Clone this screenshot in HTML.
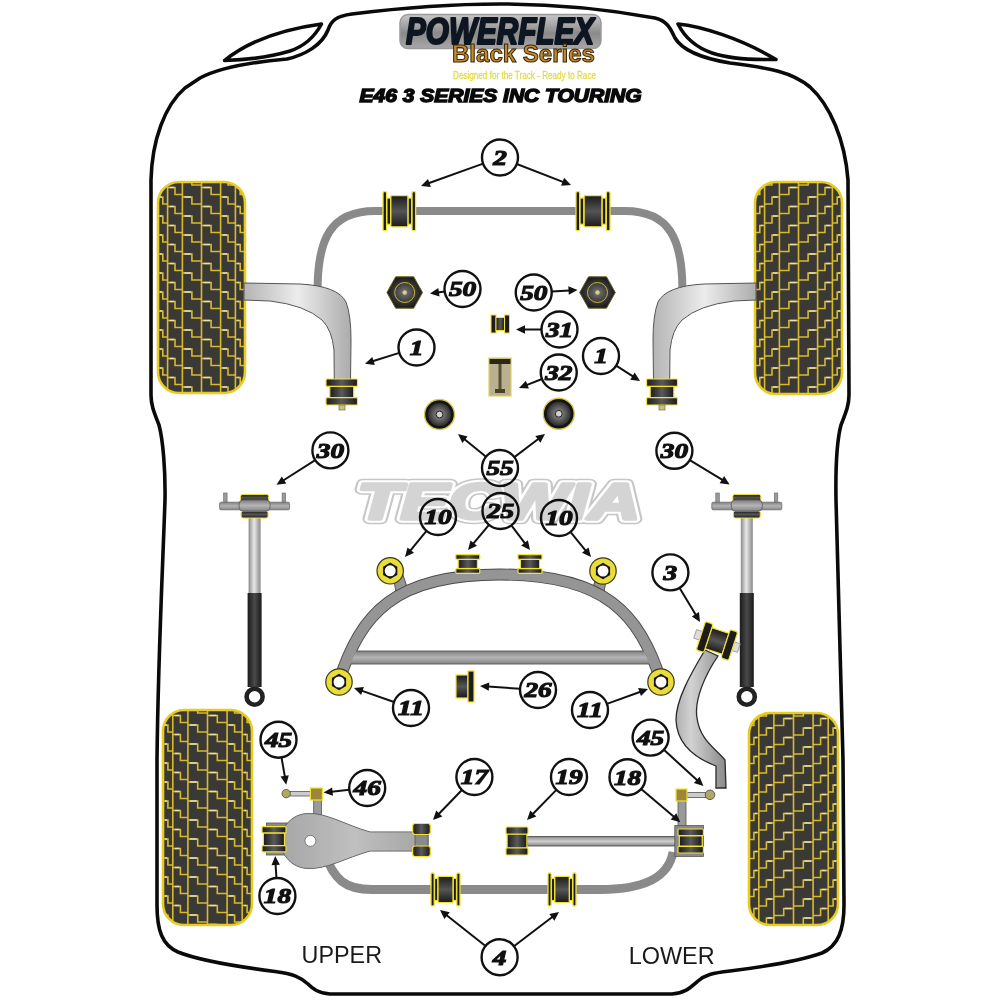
<!DOCTYPE html>
<html><head><meta charset="utf-8">
<style>
html,body{margin:0;padding:0;background:#fff;}
svg{display:block;}
.lb{font-family:"Liberation Serif",serif;font-weight:bold;font-style:italic;font-size:22px;fill:#111;stroke:#111;stroke-width:1.2px;}
</style></head><body>
<svg width="1000" height="1000" viewBox="0 0 1000 1000">
<defs>

<linearGradient id="gCoreV" x1="0" y1="0" x2="0" y2="1">
<stop offset="0" stop-color="#1a1a1a"/><stop offset="0.5" stop-color="#555"/><stop offset="1" stop-color="#1a1a1a"/>
</linearGradient>
<linearGradient id="gCoreH" x1="0" y1="0" x2="1" y2="0">
<stop offset="0" stop-color="#1a1a1a"/><stop offset="0.5" stop-color="#5a5a5a"/><stop offset="1" stop-color="#1a1a1a"/>
</linearGradient>
<linearGradient id="gArm" x1="0" y1="0" x2="1" y2="0">
<stop offset="0" stop-color="#b4b4b4"/><stop offset="0.5" stop-color="#ececec"/><stop offset="1" stop-color="#acacac"/>
</linearGradient>
<linearGradient id="gShaft" x1="0" y1="0" x2="1" y2="0">
<stop offset="0" stop-color="#8a8a8a"/><stop offset="0.45" stop-color="#e8e8e8"/><stop offset="1" stop-color="#8a8a8a"/>
</linearGradient>
<linearGradient id="gTube" x1="0" y1="0" x2="1" y2="0">
<stop offset="0" stop-color="#1a1a1a"/><stop offset="0.5" stop-color="#4a4a4a"/><stop offset="1" stop-color="#1a1a1a"/>
</linearGradient>
<linearGradient id="gBarV" x1="0" y1="0" x2="0" y2="1">
<stop offset="0" stop-color="#888"/><stop offset="0.5" stop-color="#d0d0d0"/><stop offset="1" stop-color="#888"/>
</linearGradient>
<linearGradient id="gLogo" x1="0" y1="0" x2="0" y2="1">
<stop offset="0" stop-color="#c8c8c8"/><stop offset="0.55" stop-color="#8a8a8a"/><stop offset="1" stop-color="#a8a8a8"/>
</linearGradient>
<linearGradient id="gLink" x1="0" y1="0" x2="1" y2="0">
<stop offset="0" stop-color="#b0b0b0"/><stop offset="0.3" stop-color="#d2d2d2"/><stop offset="1" stop-color="#8a8a8a"/>
</linearGradient>
<linearGradient id="gBarS" x1="0" y1="0" x2="0" y2="1">
<stop offset="0" stop-color="#808080"/><stop offset="0.5" stop-color="#b4b4b4"/><stop offset="1" stop-color="#858585"/>
</linearGradient>
<radialGradient id="gDonut" cx="0.5" cy="0.5" r="0.5">
<stop offset="0" stop-color="#8a8a8a"/><stop offset="0.45" stop-color="#6a6a6a"/><stop offset="1" stop-color="#2e2e2e"/>
</radialGradient>
<radialGradient id="gRound" cx="0.5" cy="0.5" r="0.5">
<stop offset="0" stop-color="#777"/><stop offset="0.6" stop-color="#3a3a3a"/><stop offset="1" stop-color="#1a1a1a"/>
</radialGradient>
</defs>

<path d="M200,78 C215,70 240,63 287,59 C305,55 322,45 328,30 C331,21 336,16 352,14 C400,8 450,4 500,4 C550,4 600,8 655,18 C668,21 671,30 675,38 C682,50 700,58 730,63 C770,68 792,72 810,87 C830,105 845,140 848,180 L849,395 C849,405 846,412 841,425 C837,440 835.5,470 836,500 C837,560 840,660 843,760 L844,905 C844,930 838,946 822,953 C800,961 770,966 730,971 C712,973 705,975 698,981 C690,988 685,993 672,994 L330,994 C318,993 313,989 308,984 C300,977 294,974 275,971.5 C240,967 200,961 178,952 C162,945 157,930 157,905 L157,760 C158,660 163,560 165,500 C165.5,470 163,440 159,425 C154,412 151,405 151,395 L151,180 C152,140 165,105 185,88 Z" fill="none" stroke="#0a0a0a" stroke-width="3.6" stroke-linejoin="round"/>
<path d="M224.5,60.5 C240,48 270,31 321.5,24 C314,38 302,47 290,51 C270,57 245,60 224.5,60.5 Z" fill="#fff" stroke="#0a0a0a" stroke-width="3.5" stroke-linejoin="round"/>
<path d="M678,24 C700,26 740,38 776,59.5 C755,60 730,59 712,53 C695,47 684,36 678,24 Z" fill="#fff" stroke="#0a0a0a" stroke-width="3.5" stroke-linejoin="round"/>
<clipPath id="tc0"><rect x="158" y="182" width="87" height="211" rx="21"/></clipPath>
<rect x="158" y="182" width="87" height="211" rx="21" fill="#3b3936"/>
<g clip-path="url(#tc0)"><path d="M167.6,182 V393 M182.4,182 V393 M201.5,182 V393 M220.6,182 V393 M235.4,182 V393 M158.0,140.0 H162.8 V147.0 H167.6 M158.0,159.0 H162.8 V166.0 H167.6 M158.0,178.0 H162.8 V185.0 H167.6 M158.0,197.0 H162.8 V204.0 H167.6 M158.0,216.0 H162.8 V223.0 H167.6 M158.0,235.0 H162.8 V242.0 H167.6 M158.0,254.0 H162.8 V261.0 H167.6 M158.0,273.0 H162.8 V280.0 H167.6 M158.0,292.0 H162.8 V299.0 H167.6 M158.0,311.0 H162.8 V318.0 H167.6 M158.0,330.0 H162.8 V337.0 H167.6 M158.0,349.0 H162.8 V356.0 H167.6 M158.0,368.0 H162.8 V375.0 H167.6 M158.0,387.0 H162.8 V394.0 H167.6 M167.6,149.5 H175.0 V156.5 H182.4 M167.6,168.5 H175.0 V175.5 H182.4 M167.6,187.5 H175.0 V194.5 H182.4 M167.6,206.5 H175.0 V213.5 H182.4 M167.6,225.5 H175.0 V232.5 H182.4 M167.6,244.5 H175.0 V251.5 H182.4 M167.6,263.5 H175.0 V270.5 H182.4 M167.6,282.5 H175.0 V289.5 H182.4 M167.6,301.5 H175.0 V308.5 H182.4 M167.6,320.5 H175.0 V327.5 H182.4 M167.6,339.5 H175.0 V346.5 H182.4 M167.6,358.5 H175.0 V365.5 H182.4 M167.6,377.5 H175.0 V384.5 H182.4 M167.6,396.5 H175.0 V403.5 H182.4 M182.4,140.0 H191.9 V147.0 H201.5 M182.4,159.0 H191.9 V166.0 H201.5 M182.4,178.0 H191.9 V185.0 H201.5 M182.4,197.0 H191.9 V204.0 H201.5 M182.4,216.0 H191.9 V223.0 H201.5 M182.4,235.0 H191.9 V242.0 H201.5 M182.4,254.0 H191.9 V261.0 H201.5 M182.4,273.0 H191.9 V280.0 H201.5 M182.4,292.0 H191.9 V299.0 H201.5 M182.4,311.0 H191.9 V318.0 H201.5 M182.4,330.0 H191.9 V337.0 H201.5 M182.4,349.0 H191.9 V356.0 H201.5 M182.4,368.0 H191.9 V375.0 H201.5 M182.4,387.0 H191.9 V394.0 H201.5 M201.5,149.5 H211.1 V156.5 H220.6 M201.5,168.5 H211.1 V175.5 H220.6 M201.5,187.5 H211.1 V194.5 H220.6 M201.5,206.5 H211.1 V213.5 H220.6 M201.5,225.5 H211.1 V232.5 H220.6 M201.5,244.5 H211.1 V251.5 H220.6 M201.5,263.5 H211.1 V270.5 H220.6 M201.5,282.5 H211.1 V289.5 H220.6 M201.5,301.5 H211.1 V308.5 H220.6 M201.5,320.5 H211.1 V327.5 H220.6 M201.5,339.5 H211.1 V346.5 H220.6 M201.5,358.5 H211.1 V365.5 H220.6 M201.5,377.5 H211.1 V384.5 H220.6 M201.5,396.5 H211.1 V403.5 H220.6 M220.6,140.0 H228.0 V147.0 H235.4 M220.6,159.0 H228.0 V166.0 H235.4 M220.6,178.0 H228.0 V185.0 H235.4 M220.6,197.0 H228.0 V204.0 H235.4 M220.6,216.0 H228.0 V223.0 H235.4 M220.6,235.0 H228.0 V242.0 H235.4 M220.6,254.0 H228.0 V261.0 H235.4 M220.6,273.0 H228.0 V280.0 H235.4 M220.6,292.0 H228.0 V299.0 H235.4 M220.6,311.0 H228.0 V318.0 H235.4 M220.6,330.0 H228.0 V337.0 H235.4 M220.6,349.0 H228.0 V356.0 H235.4 M220.6,368.0 H228.0 V375.0 H235.4 M220.6,387.0 H228.0 V394.0 H235.4 M235.4,149.5 H240.2 V156.5 H245.0 M235.4,168.5 H240.2 V175.5 H245.0 M235.4,187.5 H240.2 V194.5 H245.0 M235.4,206.5 H240.2 V213.5 H245.0 M235.4,225.5 H240.2 V232.5 H245.0 M235.4,244.5 H240.2 V251.5 H245.0 M235.4,263.5 H240.2 V270.5 H245.0 M235.4,282.5 H240.2 V289.5 H245.0 M235.4,301.5 H240.2 V308.5 H245.0 M235.4,320.5 H240.2 V327.5 H245.0 M235.4,339.5 H240.2 V346.5 H245.0 M235.4,358.5 H240.2 V365.5 H245.0 M235.4,377.5 H240.2 V384.5 H245.0 M235.4,396.5 H240.2 V403.5 H245.0" fill="none" stroke="#d6ba30" stroke-width="1.6"/><path d="M160.0,140.0 H161.8 M160.0,159.0 H161.8 M160.0,178.0 H161.8 M160.0,197.0 H161.8 M160.0,216.0 H161.8 M160.0,235.0 H161.8 M160.0,254.0 H161.8 M160.0,273.0 H161.8 M160.0,292.0 H161.8 M160.0,311.0 H161.8 M160.0,330.0 H161.8 M160.0,349.0 H161.8 M160.0,368.0 H161.8 M160.0,387.0 H161.8 M169.6,149.5 H174.0 M169.6,168.5 H174.0 M169.6,187.5 H174.0 M169.6,206.5 H174.0 M169.6,225.5 H174.0 M169.6,244.5 H174.0 M169.6,263.5 H174.0 M169.6,282.5 H174.0 M169.6,301.5 H174.0 M169.6,320.5 H174.0 M169.6,339.5 H174.0 M169.6,358.5 H174.0 M169.6,377.5 H174.0 M169.6,396.5 H174.0 M184.4,140.0 H190.9 M184.4,159.0 H190.9 M184.4,178.0 H190.9 M184.4,197.0 H190.9 M184.4,216.0 H190.9 M184.4,235.0 H190.9 M184.4,254.0 H190.9 M184.4,273.0 H190.9 M184.4,292.0 H190.9 M184.4,311.0 H190.9 M184.4,330.0 H190.9 M184.4,349.0 H190.9 M184.4,368.0 H190.9 M184.4,387.0 H190.9 M203.5,149.5 H210.1 M203.5,168.5 H210.1 M203.5,187.5 H210.1 M203.5,206.5 H210.1 M203.5,225.5 H210.1 M203.5,244.5 H210.1 M203.5,263.5 H210.1 M203.5,282.5 H210.1 M203.5,301.5 H210.1 M203.5,320.5 H210.1 M203.5,339.5 H210.1 M203.5,358.5 H210.1 M203.5,377.5 H210.1 M203.5,396.5 H210.1 M222.6,140.0 H227.0 M222.6,159.0 H227.0 M222.6,178.0 H227.0 M222.6,197.0 H227.0 M222.6,216.0 H227.0 M222.6,235.0 H227.0 M222.6,254.0 H227.0 M222.6,273.0 H227.0 M222.6,292.0 H227.0 M222.6,311.0 H227.0 M222.6,330.0 H227.0 M222.6,349.0 H227.0 M222.6,368.0 H227.0 M222.6,387.0 H227.0 M237.4,149.5 H239.2 M237.4,168.5 H239.2 M237.4,187.5 H239.2 M237.4,206.5 H239.2 M237.4,225.5 H239.2 M237.4,244.5 H239.2 M237.4,263.5 H239.2 M237.4,282.5 H239.2 M237.4,301.5 H239.2 M237.4,320.5 H239.2 M237.4,339.5 H239.2 M237.4,358.5 H239.2 M237.4,377.5 H239.2 M237.4,396.5 H239.2" fill="none" stroke="#e4e0b4" stroke-width="1.6"/></g>
<rect x="158" y="182" width="87" height="211" rx="21" fill="none" stroke="#e8cc22" stroke-width="2.6"/>
<clipPath id="tc1"><rect x="755" y="182" width="87" height="212" rx="21"/></clipPath>
<rect x="755" y="182" width="87" height="212" rx="21" fill="#3b3936"/>
<g clip-path="url(#tc1)"><path d="M764.6,182 V394 M779.4,182 V394 M798.5,182 V394 M817.6,182 V394 M832.4,182 V394 M764.6,149.5 H759.8 V156.5 H755.0 M764.6,168.5 H759.8 V175.5 H755.0 M764.6,187.5 H759.8 V194.5 H755.0 M764.6,206.5 H759.8 V213.5 H755.0 M764.6,225.5 H759.8 V232.5 H755.0 M764.6,244.5 H759.8 V251.5 H755.0 M764.6,263.5 H759.8 V270.5 H755.0 M764.6,282.5 H759.8 V289.5 H755.0 M764.6,301.5 H759.8 V308.5 H755.0 M764.6,320.5 H759.8 V327.5 H755.0 M764.6,339.5 H759.8 V346.5 H755.0 M764.6,358.5 H759.8 V365.5 H755.0 M764.6,377.5 H759.8 V384.5 H755.0 M764.6,396.5 H759.8 V403.5 H755.0 M779.4,140.0 H772.0 V147.0 H764.6 M779.4,159.0 H772.0 V166.0 H764.6 M779.4,178.0 H772.0 V185.0 H764.6 M779.4,197.0 H772.0 V204.0 H764.6 M779.4,216.0 H772.0 V223.0 H764.6 M779.4,235.0 H772.0 V242.0 H764.6 M779.4,254.0 H772.0 V261.0 H764.6 M779.4,273.0 H772.0 V280.0 H764.6 M779.4,292.0 H772.0 V299.0 H764.6 M779.4,311.0 H772.0 V318.0 H764.6 M779.4,330.0 H772.0 V337.0 H764.6 M779.4,349.0 H772.0 V356.0 H764.6 M779.4,368.0 H772.0 V375.0 H764.6 M779.4,387.0 H772.0 V394.0 H764.6 M798.5,149.5 H788.9 V156.5 H779.4 M798.5,168.5 H788.9 V175.5 H779.4 M798.5,187.5 H788.9 V194.5 H779.4 M798.5,206.5 H788.9 V213.5 H779.4 M798.5,225.5 H788.9 V232.5 H779.4 M798.5,244.5 H788.9 V251.5 H779.4 M798.5,263.5 H788.9 V270.5 H779.4 M798.5,282.5 H788.9 V289.5 H779.4 M798.5,301.5 H788.9 V308.5 H779.4 M798.5,320.5 H788.9 V327.5 H779.4 M798.5,339.5 H788.9 V346.5 H779.4 M798.5,358.5 H788.9 V365.5 H779.4 M798.5,377.5 H788.9 V384.5 H779.4 M798.5,396.5 H788.9 V403.5 H779.4 M817.6,140.0 H808.1 V147.0 H798.5 M817.6,159.0 H808.1 V166.0 H798.5 M817.6,178.0 H808.1 V185.0 H798.5 M817.6,197.0 H808.1 V204.0 H798.5 M817.6,216.0 H808.1 V223.0 H798.5 M817.6,235.0 H808.1 V242.0 H798.5 M817.6,254.0 H808.1 V261.0 H798.5 M817.6,273.0 H808.1 V280.0 H798.5 M817.6,292.0 H808.1 V299.0 H798.5 M817.6,311.0 H808.1 V318.0 H798.5 M817.6,330.0 H808.1 V337.0 H798.5 M817.6,349.0 H808.1 V356.0 H798.5 M817.6,368.0 H808.1 V375.0 H798.5 M817.6,387.0 H808.1 V394.0 H798.5 M832.4,149.5 H825.0 V156.5 H817.6 M832.4,168.5 H825.0 V175.5 H817.6 M832.4,187.5 H825.0 V194.5 H817.6 M832.4,206.5 H825.0 V213.5 H817.6 M832.4,225.5 H825.0 V232.5 H817.6 M832.4,244.5 H825.0 V251.5 H817.6 M832.4,263.5 H825.0 V270.5 H817.6 M832.4,282.5 H825.0 V289.5 H817.6 M832.4,301.5 H825.0 V308.5 H817.6 M832.4,320.5 H825.0 V327.5 H817.6 M832.4,339.5 H825.0 V346.5 H817.6 M832.4,358.5 H825.0 V365.5 H817.6 M832.4,377.5 H825.0 V384.5 H817.6 M832.4,396.5 H825.0 V403.5 H817.6 M842.0,140.0 H837.2 V147.0 H832.4 M842.0,159.0 H837.2 V166.0 H832.4 M842.0,178.0 H837.2 V185.0 H832.4 M842.0,197.0 H837.2 V204.0 H832.4 M842.0,216.0 H837.2 V223.0 H832.4 M842.0,235.0 H837.2 V242.0 H832.4 M842.0,254.0 H837.2 V261.0 H832.4 M842.0,273.0 H837.2 V280.0 H832.4 M842.0,292.0 H837.2 V299.0 H832.4 M842.0,311.0 H837.2 V318.0 H832.4 M842.0,330.0 H837.2 V337.0 H832.4 M842.0,349.0 H837.2 V356.0 H832.4 M842.0,368.0 H837.2 V375.0 H832.4 M842.0,387.0 H837.2 V394.0 H832.4" fill="none" stroke="#d6ba30" stroke-width="1.6"/><path d="M762.6,149.5 H760.8 M762.6,168.5 H760.8 M762.6,187.5 H760.8 M762.6,206.5 H760.8 M762.6,225.5 H760.8 M762.6,244.5 H760.8 M762.6,263.5 H760.8 M762.6,282.5 H760.8 M762.6,301.5 H760.8 M762.6,320.5 H760.8 M762.6,339.5 H760.8 M762.6,358.5 H760.8 M762.6,377.5 H760.8 M762.6,396.5 H760.8 M777.4,140.0 H773.0 M777.4,159.0 H773.0 M777.4,178.0 H773.0 M777.4,197.0 H773.0 M777.4,216.0 H773.0 M777.4,235.0 H773.0 M777.4,254.0 H773.0 M777.4,273.0 H773.0 M777.4,292.0 H773.0 M777.4,311.0 H773.0 M777.4,330.0 H773.0 M777.4,349.0 H773.0 M777.4,368.0 H773.0 M777.4,387.0 H773.0 M796.5,149.5 H789.9 M796.5,168.5 H789.9 M796.5,187.5 H789.9 M796.5,206.5 H789.9 M796.5,225.5 H789.9 M796.5,244.5 H789.9 M796.5,263.5 H789.9 M796.5,282.5 H789.9 M796.5,301.5 H789.9 M796.5,320.5 H789.9 M796.5,339.5 H789.9 M796.5,358.5 H789.9 M796.5,377.5 H789.9 M796.5,396.5 H789.9 M815.6,140.0 H809.1 M815.6,159.0 H809.1 M815.6,178.0 H809.1 M815.6,197.0 H809.1 M815.6,216.0 H809.1 M815.6,235.0 H809.1 M815.6,254.0 H809.1 M815.6,273.0 H809.1 M815.6,292.0 H809.1 M815.6,311.0 H809.1 M815.6,330.0 H809.1 M815.6,349.0 H809.1 M815.6,368.0 H809.1 M815.6,387.0 H809.1 M830.4,149.5 H826.0 M830.4,168.5 H826.0 M830.4,187.5 H826.0 M830.4,206.5 H826.0 M830.4,225.5 H826.0 M830.4,244.5 H826.0 M830.4,263.5 H826.0 M830.4,282.5 H826.0 M830.4,301.5 H826.0 M830.4,320.5 H826.0 M830.4,339.5 H826.0 M830.4,358.5 H826.0 M830.4,377.5 H826.0 M830.4,396.5 H826.0 M840.0,140.0 H838.2 M840.0,159.0 H838.2 M840.0,178.0 H838.2 M840.0,197.0 H838.2 M840.0,216.0 H838.2 M840.0,235.0 H838.2 M840.0,254.0 H838.2 M840.0,273.0 H838.2 M840.0,292.0 H838.2 M840.0,311.0 H838.2 M840.0,330.0 H838.2 M840.0,349.0 H838.2 M840.0,368.0 H838.2 M840.0,387.0 H838.2" fill="none" stroke="#e4e0b4" stroke-width="1.6"/></g>
<rect x="755" y="182" width="87" height="212" rx="21" fill="none" stroke="#e8cc22" stroke-width="2.6"/>
<clipPath id="tc2"><rect x="163" y="710" width="89" height="215" rx="21"/></clipPath>
<rect x="163" y="710" width="89" height="215" rx="21" fill="#3b3936"/>
<g clip-path="url(#tc2)"><path d="M172.8,710 V925 M187.9,710 V925 M207.5,710 V925 M227.1,710 V925 M242.2,710 V925 M163.0,668.0 H167.9 V675.0 H172.8 M163.0,687.0 H167.9 V694.0 H172.8 M163.0,706.0 H167.9 V713.0 H172.8 M163.0,725.0 H167.9 V732.0 H172.8 M163.0,744.0 H167.9 V751.0 H172.8 M163.0,763.0 H167.9 V770.0 H172.8 M163.0,782.0 H167.9 V789.0 H172.8 M163.0,801.0 H167.9 V808.0 H172.8 M163.0,820.0 H167.9 V827.0 H172.8 M163.0,839.0 H167.9 V846.0 H172.8 M163.0,858.0 H167.9 V865.0 H172.8 M163.0,877.0 H167.9 V884.0 H172.8 M163.0,896.0 H167.9 V903.0 H172.8 M163.0,915.0 H167.9 V922.0 H172.8 M172.8,677.5 H180.4 V684.5 H187.9 M172.8,696.5 H180.4 V703.5 H187.9 M172.8,715.5 H180.4 V722.5 H187.9 M172.8,734.5 H180.4 V741.5 H187.9 M172.8,753.5 H180.4 V760.5 H187.9 M172.8,772.5 H180.4 V779.5 H187.9 M172.8,791.5 H180.4 V798.5 H187.9 M172.8,810.5 H180.4 V817.5 H187.9 M172.8,829.5 H180.4 V836.5 H187.9 M172.8,848.5 H180.4 V855.5 H187.9 M172.8,867.5 H180.4 V874.5 H187.9 M172.8,886.5 H180.4 V893.5 H187.9 M172.8,905.5 H180.4 V912.5 H187.9 M172.8,924.5 H180.4 V931.5 H187.9 M187.9,668.0 H197.7 V675.0 H207.5 M187.9,687.0 H197.7 V694.0 H207.5 M187.9,706.0 H197.7 V713.0 H207.5 M187.9,725.0 H197.7 V732.0 H207.5 M187.9,744.0 H197.7 V751.0 H207.5 M187.9,763.0 H197.7 V770.0 H207.5 M187.9,782.0 H197.7 V789.0 H207.5 M187.9,801.0 H197.7 V808.0 H207.5 M187.9,820.0 H197.7 V827.0 H207.5 M187.9,839.0 H197.7 V846.0 H207.5 M187.9,858.0 H197.7 V865.0 H207.5 M187.9,877.0 H197.7 V884.0 H207.5 M187.9,896.0 H197.7 V903.0 H207.5 M187.9,915.0 H197.7 V922.0 H207.5 M207.5,677.5 H217.3 V684.5 H227.1 M207.5,696.5 H217.3 V703.5 H227.1 M207.5,715.5 H217.3 V722.5 H227.1 M207.5,734.5 H217.3 V741.5 H227.1 M207.5,753.5 H217.3 V760.5 H227.1 M207.5,772.5 H217.3 V779.5 H227.1 M207.5,791.5 H217.3 V798.5 H227.1 M207.5,810.5 H217.3 V817.5 H227.1 M207.5,829.5 H217.3 V836.5 H227.1 M207.5,848.5 H217.3 V855.5 H227.1 M207.5,867.5 H217.3 V874.5 H227.1 M207.5,886.5 H217.3 V893.5 H227.1 M207.5,905.5 H217.3 V912.5 H227.1 M207.5,924.5 H217.3 V931.5 H227.1 M227.1,668.0 H234.6 V675.0 H242.2 M227.1,687.0 H234.6 V694.0 H242.2 M227.1,706.0 H234.6 V713.0 H242.2 M227.1,725.0 H234.6 V732.0 H242.2 M227.1,744.0 H234.6 V751.0 H242.2 M227.1,763.0 H234.6 V770.0 H242.2 M227.1,782.0 H234.6 V789.0 H242.2 M227.1,801.0 H234.6 V808.0 H242.2 M227.1,820.0 H234.6 V827.0 H242.2 M227.1,839.0 H234.6 V846.0 H242.2 M227.1,858.0 H234.6 V865.0 H242.2 M227.1,877.0 H234.6 V884.0 H242.2 M227.1,896.0 H234.6 V903.0 H242.2 M227.1,915.0 H234.6 V922.0 H242.2 M242.2,677.5 H247.1 V684.5 H252.0 M242.2,696.5 H247.1 V703.5 H252.0 M242.2,715.5 H247.1 V722.5 H252.0 M242.2,734.5 H247.1 V741.5 H252.0 M242.2,753.5 H247.1 V760.5 H252.0 M242.2,772.5 H247.1 V779.5 H252.0 M242.2,791.5 H247.1 V798.5 H252.0 M242.2,810.5 H247.1 V817.5 H252.0 M242.2,829.5 H247.1 V836.5 H252.0 M242.2,848.5 H247.1 V855.5 H252.0 M242.2,867.5 H247.1 V874.5 H252.0 M242.2,886.5 H247.1 V893.5 H252.0 M242.2,905.5 H247.1 V912.5 H252.0 M242.2,924.5 H247.1 V931.5 H252.0" fill="none" stroke="#d6ba30" stroke-width="1.6"/><path d="M165.0,668.0 H166.9 M165.0,687.0 H166.9 M165.0,706.0 H166.9 M165.0,725.0 H166.9 M165.0,744.0 H166.9 M165.0,763.0 H166.9 M165.0,782.0 H166.9 M165.0,801.0 H166.9 M165.0,820.0 H166.9 M165.0,839.0 H166.9 M165.0,858.0 H166.9 M165.0,877.0 H166.9 M165.0,896.0 H166.9 M165.0,915.0 H166.9 M174.8,677.5 H179.4 M174.8,696.5 H179.4 M174.8,715.5 H179.4 M174.8,734.5 H179.4 M174.8,753.5 H179.4 M174.8,772.5 H179.4 M174.8,791.5 H179.4 M174.8,810.5 H179.4 M174.8,829.5 H179.4 M174.8,848.5 H179.4 M174.8,867.5 H179.4 M174.8,886.5 H179.4 M174.8,905.5 H179.4 M174.8,924.5 H179.4 M189.9,668.0 H196.7 M189.9,687.0 H196.7 M189.9,706.0 H196.7 M189.9,725.0 H196.7 M189.9,744.0 H196.7 M189.9,763.0 H196.7 M189.9,782.0 H196.7 M189.9,801.0 H196.7 M189.9,820.0 H196.7 M189.9,839.0 H196.7 M189.9,858.0 H196.7 M189.9,877.0 H196.7 M189.9,896.0 H196.7 M189.9,915.0 H196.7 M209.5,677.5 H216.3 M209.5,696.5 H216.3 M209.5,715.5 H216.3 M209.5,734.5 H216.3 M209.5,753.5 H216.3 M209.5,772.5 H216.3 M209.5,791.5 H216.3 M209.5,810.5 H216.3 M209.5,829.5 H216.3 M209.5,848.5 H216.3 M209.5,867.5 H216.3 M209.5,886.5 H216.3 M209.5,905.5 H216.3 M209.5,924.5 H216.3 M229.1,668.0 H233.6 M229.1,687.0 H233.6 M229.1,706.0 H233.6 M229.1,725.0 H233.6 M229.1,744.0 H233.6 M229.1,763.0 H233.6 M229.1,782.0 H233.6 M229.1,801.0 H233.6 M229.1,820.0 H233.6 M229.1,839.0 H233.6 M229.1,858.0 H233.6 M229.1,877.0 H233.6 M229.1,896.0 H233.6 M229.1,915.0 H233.6 M244.2,677.5 H246.1 M244.2,696.5 H246.1 M244.2,715.5 H246.1 M244.2,734.5 H246.1 M244.2,753.5 H246.1 M244.2,772.5 H246.1 M244.2,791.5 H246.1 M244.2,810.5 H246.1 M244.2,829.5 H246.1 M244.2,848.5 H246.1 M244.2,867.5 H246.1 M244.2,886.5 H246.1 M244.2,905.5 H246.1 M244.2,924.5 H246.1" fill="none" stroke="#e4e0b4" stroke-width="1.6"/></g>
<rect x="163" y="710" width="89" height="215" rx="21" fill="none" stroke="#e8cc22" stroke-width="2.6"/>
<clipPath id="tc3"><rect x="749" y="713" width="89" height="212" rx="21"/></clipPath>
<rect x="749" y="713" width="89" height="212" rx="21" fill="#3b3936"/>
<g clip-path="url(#tc3)"><path d="M758.8,713 V925 M773.9,713 V925 M793.5,713 V925 M813.1,713 V925 M828.2,713 V925 M758.8,680.5 H753.9 V687.5 H749.0 M758.8,699.5 H753.9 V706.5 H749.0 M758.8,718.5 H753.9 V725.5 H749.0 M758.8,737.5 H753.9 V744.5 H749.0 M758.8,756.5 H753.9 V763.5 H749.0 M758.8,775.5 H753.9 V782.5 H749.0 M758.8,794.5 H753.9 V801.5 H749.0 M758.8,813.5 H753.9 V820.5 H749.0 M758.8,832.5 H753.9 V839.5 H749.0 M758.8,851.5 H753.9 V858.5 H749.0 M758.8,870.5 H753.9 V877.5 H749.0 M758.8,889.5 H753.9 V896.5 H749.0 M758.8,908.5 H753.9 V915.5 H749.0 M758.8,927.5 H753.9 V934.5 H749.0 M773.9,671.0 H766.4 V678.0 H758.8 M773.9,690.0 H766.4 V697.0 H758.8 M773.9,709.0 H766.4 V716.0 H758.8 M773.9,728.0 H766.4 V735.0 H758.8 M773.9,747.0 H766.4 V754.0 H758.8 M773.9,766.0 H766.4 V773.0 H758.8 M773.9,785.0 H766.4 V792.0 H758.8 M773.9,804.0 H766.4 V811.0 H758.8 M773.9,823.0 H766.4 V830.0 H758.8 M773.9,842.0 H766.4 V849.0 H758.8 M773.9,861.0 H766.4 V868.0 H758.8 M773.9,880.0 H766.4 V887.0 H758.8 M773.9,899.0 H766.4 V906.0 H758.8 M773.9,918.0 H766.4 V925.0 H758.8 M793.5,680.5 H783.7 V687.5 H773.9 M793.5,699.5 H783.7 V706.5 H773.9 M793.5,718.5 H783.7 V725.5 H773.9 M793.5,737.5 H783.7 V744.5 H773.9 M793.5,756.5 H783.7 V763.5 H773.9 M793.5,775.5 H783.7 V782.5 H773.9 M793.5,794.5 H783.7 V801.5 H773.9 M793.5,813.5 H783.7 V820.5 H773.9 M793.5,832.5 H783.7 V839.5 H773.9 M793.5,851.5 H783.7 V858.5 H773.9 M793.5,870.5 H783.7 V877.5 H773.9 M793.5,889.5 H783.7 V896.5 H773.9 M793.5,908.5 H783.7 V915.5 H773.9 M793.5,927.5 H783.7 V934.5 H773.9 M813.1,671.0 H803.3 V678.0 H793.5 M813.1,690.0 H803.3 V697.0 H793.5 M813.1,709.0 H803.3 V716.0 H793.5 M813.1,728.0 H803.3 V735.0 H793.5 M813.1,747.0 H803.3 V754.0 H793.5 M813.1,766.0 H803.3 V773.0 H793.5 M813.1,785.0 H803.3 V792.0 H793.5 M813.1,804.0 H803.3 V811.0 H793.5 M813.1,823.0 H803.3 V830.0 H793.5 M813.1,842.0 H803.3 V849.0 H793.5 M813.1,861.0 H803.3 V868.0 H793.5 M813.1,880.0 H803.3 V887.0 H793.5 M813.1,899.0 H803.3 V906.0 H793.5 M813.1,918.0 H803.3 V925.0 H793.5 M828.2,680.5 H820.6 V687.5 H813.1 M828.2,699.5 H820.6 V706.5 H813.1 M828.2,718.5 H820.6 V725.5 H813.1 M828.2,737.5 H820.6 V744.5 H813.1 M828.2,756.5 H820.6 V763.5 H813.1 M828.2,775.5 H820.6 V782.5 H813.1 M828.2,794.5 H820.6 V801.5 H813.1 M828.2,813.5 H820.6 V820.5 H813.1 M828.2,832.5 H820.6 V839.5 H813.1 M828.2,851.5 H820.6 V858.5 H813.1 M828.2,870.5 H820.6 V877.5 H813.1 M828.2,889.5 H820.6 V896.5 H813.1 M828.2,908.5 H820.6 V915.5 H813.1 M828.2,927.5 H820.6 V934.5 H813.1 M838.0,671.0 H833.1 V678.0 H828.2 M838.0,690.0 H833.1 V697.0 H828.2 M838.0,709.0 H833.1 V716.0 H828.2 M838.0,728.0 H833.1 V735.0 H828.2 M838.0,747.0 H833.1 V754.0 H828.2 M838.0,766.0 H833.1 V773.0 H828.2 M838.0,785.0 H833.1 V792.0 H828.2 M838.0,804.0 H833.1 V811.0 H828.2 M838.0,823.0 H833.1 V830.0 H828.2 M838.0,842.0 H833.1 V849.0 H828.2 M838.0,861.0 H833.1 V868.0 H828.2 M838.0,880.0 H833.1 V887.0 H828.2 M838.0,899.0 H833.1 V906.0 H828.2 M838.0,918.0 H833.1 V925.0 H828.2" fill="none" stroke="#d6ba30" stroke-width="1.6"/><path d="M756.8,680.5 H754.9 M756.8,699.5 H754.9 M756.8,718.5 H754.9 M756.8,737.5 H754.9 M756.8,756.5 H754.9 M756.8,775.5 H754.9 M756.8,794.5 H754.9 M756.8,813.5 H754.9 M756.8,832.5 H754.9 M756.8,851.5 H754.9 M756.8,870.5 H754.9 M756.8,889.5 H754.9 M756.8,908.5 H754.9 M756.8,927.5 H754.9 M771.9,671.0 H767.4 M771.9,690.0 H767.4 M771.9,709.0 H767.4 M771.9,728.0 H767.4 M771.9,747.0 H767.4 M771.9,766.0 H767.4 M771.9,785.0 H767.4 M771.9,804.0 H767.4 M771.9,823.0 H767.4 M771.9,842.0 H767.4 M771.9,861.0 H767.4 M771.9,880.0 H767.4 M771.9,899.0 H767.4 M771.9,918.0 H767.4 M791.5,680.5 H784.7 M791.5,699.5 H784.7 M791.5,718.5 H784.7 M791.5,737.5 H784.7 M791.5,756.5 H784.7 M791.5,775.5 H784.7 M791.5,794.5 H784.7 M791.5,813.5 H784.7 M791.5,832.5 H784.7 M791.5,851.5 H784.7 M791.5,870.5 H784.7 M791.5,889.5 H784.7 M791.5,908.5 H784.7 M791.5,927.5 H784.7 M811.1,671.0 H804.3 M811.1,690.0 H804.3 M811.1,709.0 H804.3 M811.1,728.0 H804.3 M811.1,747.0 H804.3 M811.1,766.0 H804.3 M811.1,785.0 H804.3 M811.1,804.0 H804.3 M811.1,823.0 H804.3 M811.1,842.0 H804.3 M811.1,861.0 H804.3 M811.1,880.0 H804.3 M811.1,899.0 H804.3 M811.1,918.0 H804.3 M826.2,680.5 H821.6 M826.2,699.5 H821.6 M826.2,718.5 H821.6 M826.2,737.5 H821.6 M826.2,756.5 H821.6 M826.2,775.5 H821.6 M826.2,794.5 H821.6 M826.2,813.5 H821.6 M826.2,832.5 H821.6 M826.2,851.5 H821.6 M826.2,870.5 H821.6 M826.2,889.5 H821.6 M826.2,908.5 H821.6 M826.2,927.5 H821.6 M836.0,671.0 H834.1 M836.0,690.0 H834.1 M836.0,709.0 H834.1 M836.0,728.0 H834.1 M836.0,747.0 H834.1 M836.0,766.0 H834.1 M836.0,785.0 H834.1 M836.0,804.0 H834.1 M836.0,823.0 H834.1 M836.0,842.0 H834.1 M836.0,861.0 H834.1 M836.0,880.0 H834.1 M836.0,899.0 H834.1 M836.0,918.0 H834.1" fill="none" stroke="#e4e0b4" stroke-width="1.6"/></g>
<rect x="749" y="713" width="89" height="212" rx="21" fill="none" stroke="#e8cc22" stroke-width="2.6"/>
<rect x="400" y="14.6" width="201" height="34" rx="8" fill="url(#gLogo)" stroke="#9a9a9a" stroke-width="1.5"/>
<text x="406" y="43.5" font-family="Liberation Sans" font-weight="bold" font-style="italic" font-size="37" fill="#0e1622" stroke="#0e1622" stroke-width="2.2" stroke-linejoin="round" textLength="188" lengthAdjust="spacingAndGlyphs">POWERFLEX</text>
<text x="452" y="62" font-family="Liberation Sans" font-weight="bold" font-size="24" fill="#c08a30" stroke="#3a2608" stroke-width="1" textLength="143" lengthAdjust="spacingAndGlyphs">Black Series</text>
<text x="453" y="79" font-family="Liberation Sans" font-size="11" fill="#e2da4a" stroke="#e2da4a" stroke-width="0.3" textLength="143" lengthAdjust="spacingAndGlyphs">Designed for the Track - Ready to Race</text>

<text x="359.5" y="101.8" font-family="Liberation Sans" font-weight="bold" font-style="italic" font-size="19.2" fill="#0a0a0a" stroke="#0a0a0a" stroke-width="1.5" textLength="282" lengthAdjust="spacingAndGlyphs">E46 3 SERIES INC TOURING</text>
<path d="M317.6,288 C318,240 330,211 375,211 L625,211 C670,211 682,240 682.4,288" fill="none" stroke="#8a8a8a" stroke-width="8"/>
<rect x="383.0" y="191.7" width="3.6" height="39.0" rx="1.2" fill="#1c1c1c" stroke="#f2e234" stroke-width="1.3"/>
<rect x="412.0" y="191.7" width="3.6" height="39.0" rx="1.2" fill="#1c1c1c" stroke="#f2e234" stroke-width="1.3"/>
<rect x="387.0" y="198.1" width="3.6" height="26.1" fill="#1c1c1c" stroke="#f2e234" stroke-width="1.1"/>
<rect x="408.0" y="198.1" width="3.6" height="26.1" fill="#1c1c1c" stroke="#f2e234" stroke-width="1.1"/>
<rect x="390.8" y="195.6" width="17.1" height="31.2" rx="1" fill="url(#gCoreV)" stroke="#f2e234" stroke-width="1.3"/>
<rect x="576.0" y="191.7" width="3.7" height="39.0" rx="1.2" fill="#1c1c1c" stroke="#f2e234" stroke-width="1.3"/>
<rect x="606.3" y="191.7" width="3.7" height="39.0" rx="1.2" fill="#1c1c1c" stroke="#f2e234" stroke-width="1.3"/>
<rect x="580.1" y="198.1" width="3.7" height="26.1" fill="#1c1c1c" stroke="#f2e234" stroke-width="1.1"/>
<rect x="602.1" y="198.1" width="3.7" height="26.1" fill="#1c1c1c" stroke="#f2e234" stroke-width="1.1"/>
<rect x="584.1" y="195.6" width="17.8" height="31.2" rx="1" fill="url(#gCoreV)" stroke="#f2e234" stroke-width="1.3"/>
<path d="M244,283 L300,284 Q338,286 346,302 Q351,315 351,340 L350.5,382 L334.3,382 L334,350 Q332,330 322,320 Q305,305 270,301 L244,300 Z" fill="url(#gArm)" stroke="#555" stroke-width="1"/>
<path d="M756,283 L704,284 Q666,286 658,302 Q653,315 653,340 L653.5,382 L669.7,382 L670,350 Q672,330 682,320 Q699,305 734,301 L756,300 Z" fill="url(#gArm)" stroke="#555" stroke-width="1"/>
<rect x="329.8" y="386.3" width="23.9" height="11.4" fill="url(#gCoreH)" stroke="#f2e234" stroke-width="1.2"/>
<rect x="326.0" y="379.0" width="31.5" height="7.3" rx="1" fill="url(#gCoreH)" stroke="#f2e234" stroke-width="1.2"/>
<rect x="326.0" y="397.7" width="31.5" height="7.3" rx="1" fill="url(#gCoreH)" stroke="#f2e234" stroke-width="1.2"/>
<rect x="339" y="405" width="6" height="5" fill="#c8c080" stroke="#8a8040" stroke-width="0.8"/>
<rect x="650.2" y="386.3" width="23.6" height="11.4" fill="url(#gCoreH)" stroke="#f2e234" stroke-width="1.2"/>
<rect x="646.5" y="379.0" width="31.0" height="7.3" rx="1" fill="url(#gCoreH)" stroke="#f2e234" stroke-width="1.2"/>
<rect x="646.5" y="397.7" width="31.0" height="7.3" rx="1" fill="url(#gCoreH)" stroke="#f2e234" stroke-width="1.2"/>
<rect x="659" y="405" width="6" height="5" fill="#c8c080" stroke="#8a8040" stroke-width="0.8"/>
<polygon points="386.9,292.5 395.7,276.8 413.7,276.8 422.5,292.5 413.7,308.2 395.7,308.2" fill="url(#gRound)" stroke="#6a6020" stroke-width="1"/>
<circle cx="404.7" cy="292.5" r="10" fill="none" stroke="#c8b830" stroke-width="1"/>
<circle cx="404.7" cy="292.5" r="2.2" fill="#d8d080"/>
<polygon points="579.7,292.5 588.5,276.8 606.5,276.8 615.3,292.5 606.5,308.2 588.5,308.2" fill="url(#gRound)" stroke="#6a6020" stroke-width="1"/>
<circle cx="597.5" cy="292.5" r="10" fill="none" stroke="#c8b830" stroke-width="1"/>
<circle cx="597.5" cy="292.5" r="2.2" fill="#d8d080"/>
<rect x="491" y="315" width="5" height="18" fill="#1c1c1c" stroke="#f2e234" stroke-width="1"/>
<rect x="504.5" y="315" width="5" height="18" fill="#1c1c1c" stroke="#f2e234" stroke-width="1"/>
<rect x="496" y="317.5" width="8.5" height="13" fill="url(#gCoreH)" stroke="#f2e234" stroke-width="1"/>
<rect x="489" y="358" width="22" height="38" fill="#b8b090" stroke="#e0d060" stroke-width="1.2"/>
<rect x="489.5" y="359" width="21" height="5" fill="#2a2818"/>
<rect x="498.5" y="364" width="3" height="27" fill="#5a5030"/>
<rect x="495" y="389" width="10" height="4" fill="#4a4020"/>
<circle cx="439.5" cy="414.5" r="15" fill="#141414" stroke="#d8c850" stroke-width="1.4"/>
<circle cx="439.5" cy="414.5" r="11.5" fill="url(#gDonut)"/>
<circle cx="439.5" cy="414.5" r="3.4" fill="#d0d0d0" stroke="#222" stroke-width="1"/>
<circle cx="558.75" cy="413.75" r="15.5" fill="#141414" stroke="#d8c850" stroke-width="1.4"/>
<circle cx="558.75" cy="413.75" r="12.0" fill="url(#gDonut)"/>
<circle cx="558.75" cy="413.75" r="3.4" fill="#d0d0d0" stroke="#222" stroke-width="1"/>
<rect x="248.6" y="517" width="12" height="76" fill="url(#gShaft)"/>
<rect x="247.6" y="593" width="14" height="94" fill="url(#gTube)"/>
<circle cx="254.6" cy="696.8" r="8" fill="none" stroke="#222" stroke-width="4.6"/>
<rect x="223.6" y="493" width="3.5" height="10" fill="#999" stroke="#666" stroke-width="0.6"/>
<rect x="282.1" y="493" width="3.5" height="10" fill="#999" stroke="#666" stroke-width="0.6"/>
<rect x="240.6" y="494.4" width="28" height="7" rx="2" fill="url(#gCoreV)" stroke="#f2e234" stroke-width="1"/>
<rect x="241.1" y="511" width="27" height="7" rx="2" fill="url(#gCoreV)" stroke="#f2e234" stroke-width="1"/>
<rect x="219.6" y="502.2" width="70" height="7.6" rx="1.5" fill="url(#gBarS)" stroke="#6a6a6a" stroke-width="0.8"/>
<rect x="239.1" y="500" width="31" height="11" rx="4" fill="url(#gBarS)" stroke="#5a5a5a" stroke-width="0.8"/>
<rect x="740.8" y="517" width="12" height="76" fill="url(#gShaft)"/>
<rect x="739.8" y="593" width="14" height="94" fill="url(#gTube)"/>
<circle cx="746.8" cy="696.8" r="8" fill="none" stroke="#222" stroke-width="4.6"/>
<rect x="715.8" y="493" width="3.5" height="10" fill="#999" stroke="#666" stroke-width="0.6"/>
<rect x="774.3" y="493" width="3.5" height="10" fill="#999" stroke="#666" stroke-width="0.6"/>
<rect x="732.8" y="494.4" width="28" height="7" rx="2" fill="url(#gCoreV)" stroke="#f2e234" stroke-width="1"/>
<rect x="733.3" y="511" width="27" height="7" rx="2" fill="url(#gCoreV)" stroke="#f2e234" stroke-width="1"/>
<rect x="711.8" y="502.2" width="70" height="7.6" rx="1.5" fill="url(#gBarS)" stroke="#6a6a6a" stroke-width="0.8"/>
<rect x="731.3" y="500" width="31" height="11" rx="4" fill="url(#gBarS)" stroke="#5a5a5a" stroke-width="0.8"/>
<polygon points="393,575 402,572 408,590 396,592" fill="#959595" stroke="#555" stroke-width="1"/>
<polygon points="607,575 598,572 592,590 604,592" fill="#959595" stroke="#555" stroke-width="1"/>
<path d="M339,681 C360.7,614 394,574.5 500,574.5 C606,574.5 639.3,614 661,681" fill="none" stroke="#4a4a4a" stroke-width="12"/>
<rect x="345" y="651" width="310" height="13" fill="url(#gBarS)"/><line x1="345" y1="651" x2="655" y2="651" stroke="#555" stroke-width="0.9"/><line x1="345" y1="664" x2="655" y2="664" stroke="#555" stroke-width="0.9"/>
<path d="M339,681 C360.7,614 394,574.5 500,574.5 C606,574.5 639.3,614 661,681" fill="none" stroke="#959595" stroke-width="10.2"/>
<circle cx="390.2" cy="570.8" r="13.2" fill="#eadc3a" stroke="#3a3a10" stroke-width="1.2"/>
<polygon points="390.2,579.0 383.1,574.9 383.1,566.7 390.2,562.6 397.3,566.7 397.3,574.9" fill="#151515"/>
<circle cx="390.2" cy="570.8" r="5.5" fill="#fff"/>
<circle cx="603" cy="571" r="13.2" fill="#eadc3a" stroke="#3a3a10" stroke-width="1.2"/>
<polygon points="603.0,579.2 595.9,575.1 595.9,566.9 603.0,562.8 610.1,566.9 610.1,575.1" fill="#151515"/>
<circle cx="603" cy="571" r="5.5" fill="#fff"/>
<circle cx="339" cy="682" r="13.2" fill="#eadc3a" stroke="#3a3a10" stroke-width="1.2"/>
<polygon points="339.0,690.2 331.9,686.1 331.9,677.9 339.0,673.8 346.1,677.9 346.1,686.1" fill="#151515"/>
<circle cx="339" cy="682" r="5.5" fill="#fff"/>
<circle cx="661" cy="682" r="13.2" fill="#eadc3a" stroke="#3a3a10" stroke-width="1.2"/>
<polygon points="661.0,690.2 653.9,686.1 653.9,677.9 661.0,673.8 668.1,677.9 668.1,686.1" fill="#151515"/>
<circle cx="661" cy="682" r="5.5" fill="#fff"/>
<rect x="458.2" y="559.2" width="19.2" height="9.3" fill="url(#gCoreH)" stroke="#f2e234" stroke-width="1.2"/>
<rect x="455.8" y="554.6" width="24.0" height="4.7" rx="1" fill="url(#gCoreH)" stroke="#f2e234" stroke-width="1.2"/>
<rect x="455.8" y="568.6" width="24.0" height="4.7" rx="1" fill="url(#gCoreH)" stroke="#f2e234" stroke-width="1.2"/>
<rect x="520.4" y="559.2" width="19.2" height="9.3" fill="url(#gCoreH)" stroke="#f2e234" stroke-width="1.2"/>
<rect x="518.0" y="554.6" width="24.0" height="4.7" rx="1" fill="url(#gCoreH)" stroke="#f2e234" stroke-width="1.2"/>
<rect x="518.0" y="568.6" width="24.0" height="4.7" rx="1" fill="url(#gCoreH)" stroke="#f2e234" stroke-width="1.2"/>
<rect x="456" y="675" width="12" height="23" fill="url(#gCoreV)" stroke="#f2e234" stroke-width="1.2"/>
<rect x="468" y="671" width="6" height="31" fill="#1c1c1c" stroke="#f2e234" stroke-width="1.2"/>
<path d="M705,650 C690,675 676,700 676,720 C677,745 695,758 716,766 L716,788 L726,788 L725,760 C715,748 700,740 697,718 C694,700 705,675 718,656 Z" fill="url(#gLink)" stroke="#2a2a2a" stroke-width="1.3"/>
<g transform="translate(717,641) rotate(18)">
<rect x="-23" y="-4.5" width="46" height="9" fill="#ddd" stroke="#999" stroke-width="0.8"/>
<rect x="-9" y="-11" width="18" height="22" fill="url(#gCoreV)" stroke="#f2e234" stroke-width="1.2"/>
<rect x="-17" y="-15" width="8" height="30" rx="2" fill="#1c1c1c" stroke="#f2e234" stroke-width="1.2"/>
<rect x="9" y="-15" width="8" height="30" rx="2" fill="#1c1c1c" stroke="#f2e234" stroke-width="1.2"/>
</g>
<path d="M324,852 C334,880 345,889.5 372,889.5 L600,889.5 C640,889.5 668,880 673,852" fill="none" stroke="#8a8a8a" stroke-width="8.8"/>
<rect x="431.0" y="873.0" width="3.2" height="33.0" rx="1.2" fill="#1c1c1c" stroke="#f2e234" stroke-width="1.3"/>
<rect x="456.8" y="873.0" width="3.2" height="33.0" rx="1.2" fill="#1c1c1c" stroke="#f2e234" stroke-width="1.3"/>
<rect x="434.6" y="878.4" width="3.2" height="22.1" fill="#1c1c1c" stroke="#f2e234" stroke-width="1.1"/>
<rect x="453.2" y="878.4" width="3.2" height="22.1" fill="#1c1c1c" stroke="#f2e234" stroke-width="1.1"/>
<rect x="438.0" y="876.3" width="15.0" height="26.4" rx="1" fill="url(#gCoreV)" stroke="#f2e234" stroke-width="1.3"/>
<rect x="548.0" y="873.0" width="3.1" height="33.0" rx="1.2" fill="#1c1c1c" stroke="#f2e234" stroke-width="1.3"/>
<rect x="572.9" y="873.0" width="3.1" height="33.0" rx="1.2" fill="#1c1c1c" stroke="#f2e234" stroke-width="1.3"/>
<rect x="551.5" y="878.4" width="3.1" height="22.1" fill="#1c1c1c" stroke="#f2e234" stroke-width="1.1"/>
<rect x="569.4" y="878.4" width="3.1" height="22.1" fill="#1c1c1c" stroke="#f2e234" stroke-width="1.1"/>
<rect x="554.8" y="876.3" width="14.5" height="26.4" rx="1" fill="url(#gCoreV)" stroke="#f2e234" stroke-width="1.3"/>
<rect x="266.4" y="823" width="23" height="32" fill="#8a8a8a" stroke="#555" stroke-width="0.8"/>
<rect x="313.7" y="798" width="7.7" height="18" fill="#9a9a9a" stroke="#555" stroke-width="0.8"/>
<path d="M306,813.6 C326,812 345,825 370,832 L428,832 L428,851 L370,851 C345,858 326,870 306,868.4 A27.5,27.5 0 0,1 306,813.6 Z" fill="url(#gArm)" stroke="#555" stroke-width="1"/>
<path d="M306,813.6 C326,812 345,825 370,832 L428,832 L428,851 L370,851 C345,858 326,870 306,868.4 A27.5,27.5 0 0,1 306,813.6 Z" fill="#9a9a9a" opacity="0.55"/>
<circle cx="310.4" cy="840.9" r="5.5" fill="#fff" stroke="#666" stroke-width="0.8"/>
<rect x="263.4" y="833.0" width="21.1" height="12.7" fill="url(#gCoreH)" stroke="#f2e234" stroke-width="1.2"/>
<rect x="262.0" y="826.6" width="24.0" height="6.3" rx="1" fill="url(#gCoreH)" stroke="#f2e234" stroke-width="1.2"/>
<rect x="262.0" y="845.6" width="24.0" height="6.3" rx="1" fill="url(#gCoreH)" stroke="#f2e234" stroke-width="1.2"/>
<rect x="415" y="826" width="13" height="28" fill="#8a8a8a" stroke="#555" stroke-width="0.8"/>
<rect x="412.7" y="823.5" width="17.6" height="11" rx="2.5" fill="url(#gCoreH)" stroke="#f2e234" stroke-width="1.2"/>
<rect x="412.7" y="846" width="17.6" height="10.5" rx="2.5" fill="url(#gCoreH)" stroke="#f2e234" stroke-width="1.2"/>
<rect x="288" y="791.5" width="23" height="4.5" fill="#ccc" stroke="#555" stroke-width="0.8"/>
<circle cx="286.2" cy="793.6" r="4.2" fill="#b0a860" stroke="#444" stroke-width="0.8"/>
<rect x="310.4" y="788" width="12" height="12" fill="#9a8838" stroke="#f2e234" stroke-width="1.2"/>
<rect x="527" y="836.5" width="149" height="9.5" fill="url(#gBarV)" stroke="#444" stroke-width="0.8"/>
<rect x="507.1" y="834.0" width="19.8" height="14.0" fill="url(#gCoreH)" stroke="#f2e234" stroke-width="1.2"/>
<rect x="506.0" y="827.0" width="22.0" height="7.0" rx="1" fill="url(#gCoreH)" stroke="#f2e234" stroke-width="1.2"/>
<rect x="506.0" y="848.0" width="22.0" height="7.0" rx="1" fill="url(#gCoreH)" stroke="#f2e234" stroke-width="1.2"/>
<rect x="678" y="800" width="8" height="27" fill="#9a9a9a" stroke="#555" stroke-width="0.8"/>
<rect x="674.8" y="825.6" width="28.6" height="30.8" fill="#8a8a8a" stroke="#555" stroke-width="0.8"/>
<rect x="679.3" y="835.7" width="22.9" height="10.6" fill="url(#gCoreH)" stroke="#f2e234" stroke-width="1.2"/>
<rect x="678.0" y="829.0" width="25.4" height="6.7" rx="1" fill="url(#gCoreH)" stroke="#f2e234" stroke-width="1.2"/>
<rect x="678.0" y="846.3" width="25.4" height="6.7" rx="1" fill="url(#gCoreH)" stroke="#f2e234" stroke-width="1.2"/>
<rect x="687" y="792.5" width="19" height="5" fill="#ccc" stroke="#555" stroke-width="0.8"/>
<circle cx="710" cy="794.8" r="4.8" fill="#b0a860" stroke="#444" stroke-width="0.8"/>
<rect x="676" y="789" width="11" height="12" fill="#9a8838" stroke="#f2e234" stroke-width="1.2"/>
<line x1="483.1" y1="163.6" x2="428.5" y2="183.3" stroke="#111" stroke-width="2"/><polygon points="421.0,186.0 428.0,179.0 430.9,186.9" fill="#111"/>
<line x1="516.8" y1="164.0" x2="563.5" y2="182.1" stroke="#111" stroke-width="2"/><polygon points="571.0,185.0 561.1,185.7 564.1,177.8" fill="#111"/>
<line x1="444.7" y1="291.5" x2="437.9" y2="292.4" stroke="#111" stroke-width="2"/><polygon points="430.0,293.5 438.3,288.1 439.5,296.4" fill="#111"/>
<line x1="551.7" y1="291.5" x2="569.5" y2="290.5" stroke="#111" stroke-width="2"/><polygon points="577.5,290.0 568.8,294.7 568.3,286.3" fill="#111"/>
<line x1="541.5" y1="329.5" x2="524.0" y2="329.5" stroke="#111" stroke-width="2"/><polygon points="516.0,329.5 525.0,325.3 525.0,333.7" fill="#111"/>
<line x1="542.0" y1="379.0" x2="526.5" y2="385.1" stroke="#111" stroke-width="2"/><polygon points="519.0,388.0 525.9,380.8 528.9,388.6" fill="#111"/>
<line x1="399.3" y1="352.9" x2="372.6" y2="361.3" stroke="#111" stroke-width="2"/><polygon points="365.0,363.8 372.3,357.0 374.8,365.0" fill="#111"/>
<line x1="616.2" y1="365.7" x2="633.3" y2="376.7" stroke="#111" stroke-width="2"/><polygon points="640.0,381.0 630.2,379.7 634.7,372.6" fill="#111"/>
<line x1="486.0" y1="456.7" x2="464.2" y2="439.0" stroke="#111" stroke-width="2"/><polygon points="458.0,434.0 467.6,436.4 462.4,442.9" fill="#111"/>
<line x1="514.4" y1="457.1" x2="538.6" y2="438.8" stroke="#111" stroke-width="2"/><polygon points="545.0,434.0 540.4,442.8 535.3,436.1" fill="#111"/>
<line x1="315.2" y1="460.1" x2="283.2" y2="480.5" stroke="#111" stroke-width="2"/><polygon points="276.5,484.8 281.8,476.4 286.3,483.5" fill="#111"/>
<line x1="689.8" y1="460.2" x2="722.8" y2="480.2" stroke="#111" stroke-width="2"/><polygon points="729.6,484.4 719.7,483.3 724.1,476.1" fill="#111"/>
<line x1="426.5" y1="530.9" x2="410.1" y2="550.8" stroke="#111" stroke-width="2"/><polygon points="405.0,557.0 407.5,547.4 414.0,552.7" fill="#111"/>
<line x1="489.0" y1="524.8" x2="473.1" y2="543.9" stroke="#111" stroke-width="2"/><polygon points="468.0,550.0 470.5,540.4 477.0,545.8" fill="#111"/>
<line x1="511.4" y1="525.4" x2="525.2" y2="543.6" stroke="#111" stroke-width="2"/><polygon points="530.0,550.0 521.2,545.4 527.9,540.3" fill="#111"/>
<line x1="570.4" y1="531.9" x2="585.9" y2="550.8" stroke="#111" stroke-width="2"/><polygon points="591.0,557.0 582.0,552.7 588.5,547.4" fill="#111"/>
<line x1="679.6" y1="587.9" x2="695.9" y2="615.1" stroke="#111" stroke-width="2"/><polygon points="700.0,622.0 691.8,616.4 699.0,612.1" fill="#111"/>
<line x1="394.0" y1="702.0" x2="361.5" y2="690.6" stroke="#111" stroke-width="2"/><polygon points="354.0,688.0 363.9,687.0 361.1,694.9" fill="#111"/>
<line x1="520.0" y1="688.8" x2="488.0" y2="686.6" stroke="#111" stroke-width="2"/><polygon points="480.0,686.0 489.3,682.4 488.7,690.8" fill="#111"/>
<line x1="606.9" y1="703.9" x2="640.5" y2="691.7" stroke="#111" stroke-width="2"/><polygon points="648.0,689.0 641.0,696.0 638.1,688.1" fill="#111"/>
<line x1="281.5" y1="757.4" x2="284.9" y2="776.9" stroke="#111" stroke-width="2"/><polygon points="286.2,784.8 280.5,776.6 288.8,775.2" fill="#111"/>
<line x1="349.3" y1="789.8" x2="331.6" y2="791.7" stroke="#111" stroke-width="2"/><polygon points="323.6,792.5 332.1,787.4 333.0,795.8" fill="#111"/>
<line x1="276.4" y1="878.0" x2="275.6" y2="864.0" stroke="#111" stroke-width="2"/><polygon points="275.2,856.0 279.9,864.8 271.5,865.2" fill="#111"/>
<line x1="461.9" y1="790.0" x2="438.5" y2="814.2" stroke="#111" stroke-width="2"/><polygon points="433.0,820.0 436.2,810.6 442.3,816.4" fill="#111"/>
<line x1="556.4" y1="789.9" x2="532.6" y2="814.3" stroke="#111" stroke-width="2"/><polygon points="527.0,820.0 530.3,810.6 536.3,816.5" fill="#111"/>
<line x1="641.2" y1="788.9" x2="674.2" y2="817.1" stroke="#111" stroke-width="2"/><polygon points="680.3,822.3 670.7,819.6 676.2,813.3" fill="#111"/>
<line x1="663.9" y1="749.8" x2="697.5" y2="780.6" stroke="#111" stroke-width="2"/><polygon points="703.4,786.0 693.9,783.0 699.6,776.8" fill="#111"/>
<line x1="485.5" y1="946.0" x2="446.3" y2="915.0" stroke="#111" stroke-width="2"/><polygon points="440.0,910.0 449.7,912.3 444.4,918.9" fill="#111"/>
<line x1="513.9" y1="946.3" x2="552.6" y2="916.8" stroke="#111" stroke-width="2"/><polygon points="559.0,912.0 554.4,920.8 549.3,914.1" fill="#111"/>
<circle cx="500" cy="157.5" r="18" fill="#fff" stroke="#111" stroke-width="2.4"/><g transform="translate(500,157.5) scale(1.24,1)"><text x="0" y="7.4" class="lb" text-anchor="middle">2</text></g>
<circle cx="462.5" cy="289" r="18" fill="#fff" stroke="#111" stroke-width="2.4"/><g transform="translate(462.5,289) scale(1.24,1)"><text x="0" y="7.4" class="lb" text-anchor="middle">50</text></g>
<circle cx="533.75" cy="292.5" r="18" fill="#fff" stroke="#111" stroke-width="2.4"/><g transform="translate(533.75,292.5) scale(1.24,1)"><text x="0" y="7.4" class="lb" text-anchor="middle">50</text></g>
<circle cx="559.5" cy="329.5" r="18" fill="#fff" stroke="#111" stroke-width="2.4"/><g transform="translate(559.5,329.5) scale(1.24,1)"><text x="0" y="7.4" class="lb" text-anchor="middle">31</text></g>
<circle cx="558.75" cy="372.5" r="18" fill="#fff" stroke="#111" stroke-width="2.4"/><g transform="translate(558.75,372.5) scale(1.24,1)"><text x="0" y="7.4" class="lb" text-anchor="middle">32</text></g>
<circle cx="416.5" cy="347.5" r="18" fill="#fff" stroke="#111" stroke-width="2.4"/><g transform="translate(416.5,347.5) scale(1.24,1)"><text x="0" y="7.4" class="lb" text-anchor="middle">1</text></g>
<circle cx="601" cy="356" r="18" fill="#fff" stroke="#111" stroke-width="2.4"/><g transform="translate(601,356) scale(1.24,1)"><text x="0" y="7.4" class="lb" text-anchor="middle">1</text></g>
<circle cx="500" cy="468" r="18" fill="#fff" stroke="#111" stroke-width="2.4"/><g transform="translate(500,468) scale(1.24,1)"><text x="0" y="7.4" class="lb" text-anchor="middle">55</text></g>
<circle cx="330.4" cy="450.4" r="18" fill="#fff" stroke="#111" stroke-width="2.4"/><g transform="translate(330.4,450.4) scale(1.24,1)"><text x="0" y="7.4" class="lb" text-anchor="middle">30</text></g>
<circle cx="674.4" cy="450.8" r="18" fill="#fff" stroke="#111" stroke-width="2.4"/><g transform="translate(674.4,450.8) scale(1.24,1)"><text x="0" y="7.4" class="lb" text-anchor="middle">30</text></g>
<circle cx="438" cy="517" r="18" fill="#fff" stroke="#111" stroke-width="2.4"/><g transform="translate(438,517) scale(1.24,1)"><text x="0" y="7.4" class="lb" text-anchor="middle">10</text></g>
<circle cx="500.5" cy="511" r="18" fill="#fff" stroke="#111" stroke-width="2.4"/><g transform="translate(500.5,511) scale(1.24,1)"><text x="0" y="7.4" class="lb" text-anchor="middle">25</text></g>
<circle cx="559" cy="518" r="18" fill="#fff" stroke="#111" stroke-width="2.4"/><g transform="translate(559,518) scale(1.24,1)"><text x="0" y="7.4" class="lb" text-anchor="middle">10</text></g>
<circle cx="670.4" cy="572.4" r="18" fill="#fff" stroke="#111" stroke-width="2.4"/><g transform="translate(670.4,572.4) scale(1.24,1)"><text x="0" y="7.4" class="lb" text-anchor="middle">3</text></g>
<circle cx="411" cy="708" r="18" fill="#fff" stroke="#111" stroke-width="2.4"/><g transform="translate(411,708) scale(1.24,1)"><text x="0" y="7.4" class="lb" text-anchor="middle">11</text></g>
<circle cx="538" cy="690" r="18" fill="#fff" stroke="#111" stroke-width="2.4"/><g transform="translate(538,690) scale(1.24,1)"><text x="0" y="7.4" class="lb" text-anchor="middle">26</text></g>
<circle cx="590" cy="710" r="18" fill="#fff" stroke="#111" stroke-width="2.4"/><g transform="translate(590,710) scale(1.24,1)"><text x="0" y="7.4" class="lb" text-anchor="middle">11</text></g>
<circle cx="278.5" cy="739.7" r="18" fill="#fff" stroke="#111" stroke-width="2.4"/><g transform="translate(278.5,739.7) scale(1.24,1)"><text x="0" y="7.4" class="lb" text-anchor="middle">45</text></g>
<circle cx="367.2" cy="788" r="18" fill="#fff" stroke="#111" stroke-width="2.4"/><g transform="translate(367.2,788) scale(1.24,1)"><text x="0" y="7.4" class="lb" text-anchor="middle">46</text></g>
<circle cx="277.4" cy="896" r="18" fill="#fff" stroke="#111" stroke-width="2.4"/><g transform="translate(277.4,896) scale(1.24,1)"><text x="0" y="7.4" class="lb" text-anchor="middle">18</text></g>
<circle cx="474.4" cy="777" r="18" fill="#fff" stroke="#111" stroke-width="2.4"/><g transform="translate(474.4,777) scale(1.24,1)"><text x="0" y="7.4" class="lb" text-anchor="middle">17</text></g>
<circle cx="569" cy="777" r="18" fill="#fff" stroke="#111" stroke-width="2.4"/><g transform="translate(569,777) scale(1.24,1)"><text x="0" y="7.4" class="lb" text-anchor="middle">19</text></g>
<circle cx="627.5" cy="777.2" r="18" fill="#fff" stroke="#111" stroke-width="2.4"/><g transform="translate(627.5,777.2) scale(1.24,1)"><text x="0" y="7.4" class="lb" text-anchor="middle">18</text></g>
<circle cx="650.6" cy="737.6" r="18" fill="#fff" stroke="#111" stroke-width="2.4"/><g transform="translate(650.6,737.6) scale(1.24,1)"><text x="0" y="7.4" class="lb" text-anchor="middle">45</text></g>
<circle cx="499.6" cy="957.2" r="18" fill="#fff" stroke="#111" stroke-width="2.4"/><g transform="translate(499.6,957.2) scale(1.24,1)"><text x="0" y="7.4" class="lb" text-anchor="middle">4</text></g>
<g style="mix-blend-mode:multiply">
<text x="357" y="519" font-family="Liberation Sans" font-weight="bold" font-style="italic" font-size="50" fill="#c6c6c6" stroke="#c6c6c6" stroke-width="10.5" stroke-linejoin="round" textLength="283" lengthAdjust="spacingAndGlyphs">TECWIA</text>
<text x="357" y="519" font-family="Liberation Sans" font-weight="bold" font-style="italic" font-size="50" fill="#fff" stroke="#fff" stroke-width="7.5" stroke-linejoin="round" textLength="283" lengthAdjust="spacingAndGlyphs">TECWIA</text>
<text x="357" y="519" font-family="Liberation Sans" font-weight="bold" font-style="italic" font-size="50" fill="#d4d4d4" stroke="#d4d4d4" stroke-width="3.5" stroke-linejoin="round" textLength="283" lengthAdjust="spacingAndGlyphs">TECWIA</text>
</g>
<text x="301.6" y="963.2" font-family="Liberation Sans" font-size="23.5" fill="#1a1a1a" textLength="80.4" lengthAdjust="spacingAndGlyphs">UPPER</text>
<text x="628.7" y="963.6" font-family="Liberation Sans" font-size="23.5" fill="#1a1a1a" textLength="86" lengthAdjust="spacingAndGlyphs">LOWER</text>
</svg></body></html>
